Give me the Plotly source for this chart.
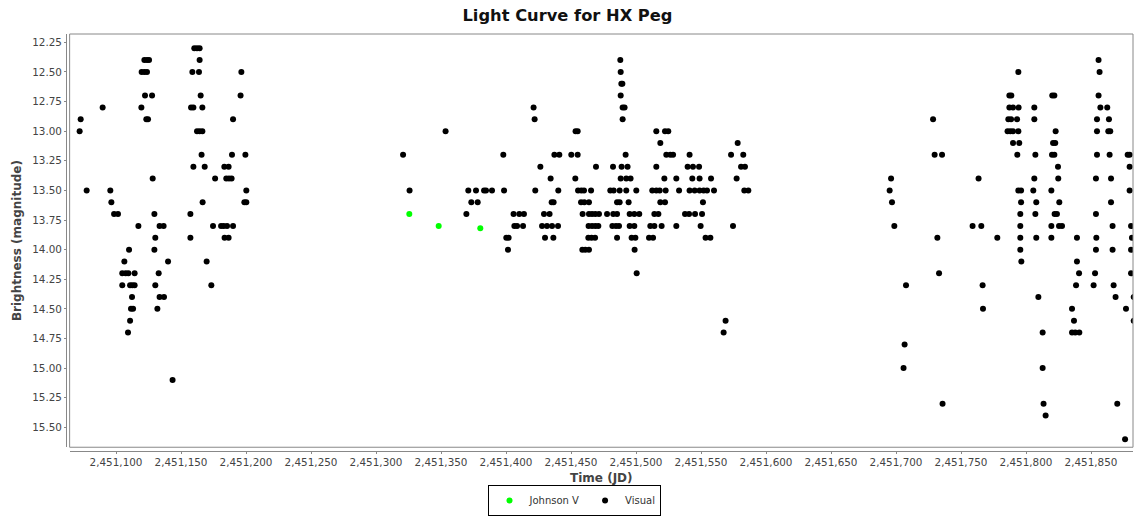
"""
HX Peg light curve (AAVSO style scatter, JFreeChart look)
"""

import plotly.graph_objects as go

# -------------------------------------------------------------
# DATA (Julian Date, magnitude)
# -------------------------------------------------------------
# Season 1 - visual estimates
s1_jd = [
    2451160.2, 2451162.3, 2451164.3,
    2451121.8, 2451123.8, 2451125.4, 2451164.3,
    2451119.7, 2451121.8, 2451123.8, 2451158.7, 2451163.8, 2451196.4,
    2451122.3, 2451127.7, 2451165.1, 2451195.8,
    2451089.7, 2451119.5, 2451157.7, 2451159.5, 2451166.4,
    2451072.8, 2451123.3, 2451124.6, 2451190.0,
    2451072.0, 2451162.3, 2451164.3, 2451166.4,
    2451165.8, 2451189.2, 2451199.5,
    2451159.5, 2451168.2, 2451183.3, 2451186.6,
    2451128.2, 2451176.2, 2451184.8, 2451186.9, 2451188.9,
    2451077.4, 2451095.6, 2451200.2,
    2451096.4, 2451166.6, 2451198.7, 2451200.2,
    2451098.5, 2451101.5, 2451129.5, 2451157.2,
    2451117.2, 2451133.5, 2451136.6, 2451174.6, 2451180.8, 2451182.8, 2451185.4, 2451190.0,
    2451130.2, 2451157.2, 2451183.5, 2451186.6,
    2451110.0, 2451129.5,
    2451106.4, 2451140.0, 2451169.7,
    2451104.8, 2451107.4, 2451109.5, 2451114.3, 2451132.8,
    2451104.8, 2451110.8, 2451112.5, 2451114.3, 2451130.2, 2451173.3,
    2451112.3, 2451133.5, 2451136.9,
    2451111.5, 2451113.1, 2451131.8,
    2451110.8,
    2451109.2,
    2451143.5,
]
s1_mag = [
    12.3, 12.3, 12.3,
    12.4, 12.4, 12.4, 12.4,
    12.5, 12.5, 12.5, 12.5, 12.5, 12.5,
    12.7, 12.7, 12.7, 12.7,
    12.8, 12.8, 12.8, 12.8, 12.8,
    12.9, 12.9, 12.9, 12.9,
    13.0, 13.0, 13.0, 13.0,
    13.2, 13.2, 13.2,
    13.3, 13.3, 13.3, 13.3,
    13.4, 13.4, 13.4, 13.4, 13.4,
    13.5, 13.5, 13.5,
    13.6, 13.6, 13.6, 13.6,
    13.7, 13.7, 13.7, 13.7,
    13.8, 13.8, 13.8, 13.8, 13.8, 13.8, 13.8, 13.8,
    13.9, 13.9, 13.9, 13.9,
    14.0, 14.0,
    14.1, 14.1, 14.1,
    14.2, 14.2, 14.2, 14.2, 14.2,
    14.3, 14.3, 14.3, 14.3, 14.3, 14.3,
    14.4, 14.4, 14.4,
    14.5, 14.5, 14.5,
    14.6,
    14.7,
    15.1,
]

# Season 2 - visual estimates
s2_jd = [
    2451487.9,
    2451488.2,
    2451488.7, 2451489.5,
    2451488.2,
    2451421.2, 2451489.7, 2451491.2,
    2451422.0, 2451489.7,
    2451353.5, 2451453.5, 2451455.1, 2451515.6, 2451522.3, 2451524.8,
    2451518.7, 2451578.2,
    2451320.8, 2451397.9, 2451437.2, 2451441.0, 2451450.2, 2451455.1, 2451492.0,
    2451523.3, 2451526.4, 2451528.5, 2451541.2, 2451573.1, 2451582.5,
    2451426.4, 2451469.2, 2451482.3, 2451488.9, 2451493.5, 2451515.6, 2451539.7,
    2451543.8, 2451548.5, 2451580.8, 2451583.8,
    2451434.3, 2451453.3, 2451488.2, 2451492.5, 2451495.8, 2451521.8, 2451531.0,
    2451543.3, 2451548.9, 2451557.7, 2451577.4,
    2451325.8, 2451371.0, 2451376.9, 2451383.1, 2451384.6, 2451389.2, 2451398.5,
    2451422.5, 2451440.2, 2451455.4, 2451457.9, 2451460.0, 2451465.4, 2451480.2,
    2451482.8, 2451487.4, 2451492.5, 2451500.2, 2451512.5, 2451515.6, 2451518.2,
    2451522.8, 2451533.1, 2451541.2, 2451545.1, 2451548.9, 2451552.0, 2451554.6,
    2451560.0, 2451583.3, 2451586.4,
    2451373.3, 2451378.2, 2451435.1, 2451436.6, 2451457.7, 2451460.2, 2451463.8,
    2451485.4, 2451487.4, 2451494.3, 2451518.7, 2451522.3, 2451551.5,
    2451369.5, 2451405.8, 2451410.2, 2451413.8, 2451429.2, 2451433.5, 2451458.9,
    2451463.8, 2451466.2, 2451468.7, 2451471.5, 2451477.7, 2451482.5, 2451485.4,
    2451495.1, 2451498.7, 2451502.5, 2451514.1, 2451517.2, 2451537.7, 2451540.8,
    2451545.4, 2451550.8,
    2451406.4, 2451408.5, 2451413.1, 2451427.7, 2451431.5, 2451435.4, 2451440.0,
    2451463.5, 2451466.2, 2451468.7, 2451471.0, 2451481.8, 2451484.6, 2451486.9,
    2451495.1, 2451498.7, 2451511.0, 2451514.1, 2451519.7, 2451531.0, 2451549.7,
    2451574.6,
    2451400.2, 2451402.0, 2451430.0, 2451436.4, 2451463.3, 2451465.8, 2451468.5,
    2451485.4, 2451496.6, 2451499.5, 2451510.0, 2451513.1, 2451553.5, 2451557.2,
    2451401.5, 2451458.7, 2451461.0, 2451463.8, 2451498.9,
    2451500.5,
    2451568.9,
    2451567.4,
]
s2_mag = [
    12.4,
    12.5,
    12.6, 12.6,
    12.7,
    12.8, 12.8, 12.8,
    12.9, 12.9,
    13.0, 13.0, 13.0, 13.0, 13.0, 13.0,
    13.1, 13.1,
    13.2, 13.2, 13.2, 13.2, 13.2, 13.2, 13.2,
    13.2, 13.2, 13.2, 13.2, 13.2, 13.2,
    13.3, 13.3, 13.3, 13.3, 13.3, 13.3, 13.3,
    13.3, 13.3, 13.3, 13.3,
    13.4, 13.4, 13.4, 13.4, 13.4, 13.4, 13.4,
    13.4, 13.4, 13.4, 13.4,
    13.5, 13.5, 13.5, 13.5, 13.5, 13.5, 13.5,
    13.5, 13.5, 13.5, 13.5, 13.5, 13.5, 13.5,
    13.5, 13.5, 13.5, 13.5, 13.5, 13.5, 13.5,
    13.5, 13.5, 13.5, 13.5, 13.5, 13.5, 13.5,
    13.5, 13.5, 13.5,
    13.6, 13.6, 13.6, 13.6, 13.6, 13.6, 13.6,
    13.6, 13.6, 13.6, 13.6, 13.6, 13.6,
    13.7, 13.7, 13.7, 13.7, 13.7, 13.7, 13.7,
    13.7, 13.7, 13.7, 13.7, 13.7, 13.7, 13.7,
    13.7, 13.7, 13.7, 13.7, 13.7, 13.7, 13.7,
    13.7, 13.7,
    13.8, 13.8, 13.8, 13.8, 13.8, 13.8, 13.8,
    13.8, 13.8, 13.8, 13.8, 13.8, 13.8, 13.8,
    13.8, 13.8, 13.8, 13.8, 13.8, 13.8, 13.8,
    13.8,
    13.9, 13.9, 13.9, 13.9, 13.9, 13.9, 13.9,
    13.9, 13.9, 13.9, 13.9, 13.9, 13.9, 13.9,
    14.0, 14.0, 14.0, 14.0, 14.0,
    14.2,
    14.6,
    14.7,
]

# Season 3 - visual estimates
s3_jd = [
    2451855.8,
    2451794.1, 2451856.6,
    2451787.2, 2451788.7, 2451820.2, 2451821.8, 2451855.8,
    2451787.2, 2451790.0, 2451794.3, 2451806.4, 2451857.2, 2451862.5,
    2451728.5, 2451786.4, 2451788.5, 2451793.1, 2451806.4, 2451854.6, 2451863.8,
    2451785.8, 2451787.9, 2451790.0, 2451794.1, 2451822.8, 2451854.6, 2451863.3, 2451864.8,
    2451790.0, 2451794.8, 2451820.8, 2451822.5,
    2451729.7, 2451735.4, 2451793.3, 2451807.2, 2451820.0, 2451821.8, 2451854.6,
    2451864.3, 2451878.2, 2451879.7,
    2451824.6, 2451879.7,
    2451696.2, 2451763.5, 2451806.4, 2451824.8, 2451853.8, 2451865.4,
    2451695.1, 2451794.1, 2451796.2, 2451805.6, 2451819.5, 2451879.7,
    2451696.9, 2451796.2, 2451807.9, 2451825.6, 2451865.4,
    2451795.6, 2451807.2, 2451822.0, 2451823.8, 2451853.8,
    2451698.7, 2451758.9, 2451765.6, 2451795.6, 2451819.5, 2451825.4, 2451827.7,
    2451866.6, 2451880.8,
    2451731.8, 2451777.9, 2451795.6, 2451807.9, 2451819.5, 2451839.2, 2451854.1,
    2451881.5,
    2451795.6, 2451853.8, 2451866.6, 2451880.8,
    2451796.4, 2451839.2,
    2451733.1, 2451840.8, 2451853.1, 2451880.8,
    2451707.7, 2451766.6, 2451838.5, 2451852.0, 2451867.4,
    2451809.5, 2451868.9, 2451882.8,
    2451766.9, 2451835.4, 2451876.9,
    2451836.9, 2451882.8,
    2451812.8, 2451835.4, 2451837.9, 2451841.0,
    2451706.6,
    2451705.8, 2451812.8,
    2451735.8, 2451813.5, 2451870.2,
    2451815.1,
    2451876.2,
]
s3_mag = [
    12.4,
    12.5, 12.5,
    12.7, 12.7, 12.7, 12.7, 12.7,
    12.8, 12.8, 12.8, 12.8, 12.8, 12.8,
    12.9, 12.9, 12.9, 12.9, 12.9, 12.9, 12.9,
    13.0, 13.0, 13.0, 13.0, 13.0, 13.0, 13.0, 13.0,
    13.1, 13.1, 13.1, 13.1,
    13.2, 13.2, 13.2, 13.2, 13.2, 13.2, 13.2,
    13.2, 13.2, 13.2,
    13.3, 13.3,
    13.4, 13.4, 13.4, 13.4, 13.4, 13.4,
    13.5, 13.5, 13.5, 13.5, 13.5, 13.5,
    13.6, 13.6, 13.6, 13.6, 13.6,
    13.7, 13.7, 13.7, 13.7, 13.7,
    13.8, 13.8, 13.8, 13.8, 13.8, 13.8, 13.8,
    13.8, 13.8,
    13.9, 13.9, 13.9, 13.9, 13.9, 13.9, 13.9,
    13.9,
    14.0, 14.0, 14.0, 14.0,
    14.1, 14.1,
    14.2, 14.2, 14.2, 14.2,
    14.3, 14.3, 14.3, 14.3, 14.3,
    14.4, 14.4, 14.4,
    14.5, 14.5, 14.5,
    14.6, 14.6,
    14.7, 14.7, 14.7, 14.7,
    14.8,
    15.0, 15.0,
    15.3, 15.3, 15.3,
    15.4,
    15.6,
]

# Johnson V observations
jv_jd = [2451325.6, 2451348.2, 2451380.2]
jv_mag = [13.7, 13.8, 13.82]

# Axis ticks
x_ticks = [2451100, 2451150, 2451200, 2451250, 2451300, 2451350, 2451400, 2451450,
           2451500, 2451550, 2451600, 2451650, 2451700, 2451750, 2451800, 2451850]
y_ticks = [12.25, 12.50, 12.75, 13.00, 13.25, 13.50, 13.75, 14.00,
           14.25, 14.50, 14.75, 15.00, 15.25, 15.50]

visual_jd = s1_jd + s2_jd + s3_jd
visual_mag = s1_mag + s2_mag + s3_mag

# -------------------------------------------------------------
# FIGURE
# -------------------------------------------------------------
axis_gray = '#888888'
tick_font = dict(family='DejaVu Sans', size=10.4, color='#444444')
label_font = dict(family='DejaVu Sans', size=12, color='#444444')

fig = go.Figure()

fig.add_trace(go.Scatter(
    x=visual_jd, y=visual_mag,
    mode='markers',
    marker=dict(color='black', size=6),
    name='Visual',
    legendrank=2,
))

fig.add_trace(go.Scatter(
    x=jv_jd, y=jv_mag,
    mode='markers',
    marker=dict(color='#00FF00', size=6),
    name='Johnson V',
    legendrank=1,
))

# plot outline (axes are offset from it, JFreeChart style)
fig.add_shape(type='rect', xref='paper', yref='paper',
              x0=0.0034, x1=1, y0=0.009, y1=1,
              line=dict(color=axis_gray, width=1), layer='above')

fig.update_layout(
    width=1135,
    height=518,
    paper_bgcolor='white',
    plot_bgcolor='white',
    margin=dict(l=66, r=2, t=34, b=67),
    title=dict(text='<b>Light Curve for HX Peg</b>',
               x=0.5, xref='container', xanchor='center',
               y=1 - 15 / 518, yref='container', yanchor='middle',
               font=dict(family='DejaVu Sans', size=16.3, color='#111111')),
    showlegend=True,
    legend=dict(orientation='h',
                x=0.5066, xref='container', xanchor='center',
                y=1 - 516 / 518, yref='container', yanchor='bottom',
                bordercolor='black', borderwidth=1,
                itemwidth=30, tracegroupgap=0,
                font=dict(family='DejaVu Sans', size=10, color='#333333')),
    xaxis=dict(
        domain=[0.0034, 1],
        anchor='free', position=0,
        range=[2451064.3, 2451882.3],
        automargin=False,
        showgrid=False, zeroline=False,
        showline=True, linecolor=axis_gray, linewidth=1,
        ticks='outside', ticklen=2, tickcolor=axis_gray,
        tickvals=x_ticks, tickformat=',d',
        tickfont=tick_font,
        title=dict(text='<b>Time (JD)</b>', font=label_font, standoff=6),
    ),
    yaxis=dict(
        domain=[0.009, 1],
        anchor='free', position=0,
        range=[15.668, 12.18],
        automargin=False,
        showgrid=False, zeroline=False,
        showline=True, linecolor=axis_gray, linewidth=1,
        ticks='outside', ticklen=2, tickcolor=axis_gray,
        tickvals=y_ticks, tickformat='.2f',
        tickfont=tick_font,
        title=dict(text='<b>Brightness (magnitude)</b>', font=label_font, standoff=6),
    ),
)

# the page body keeps its default 8px margin otherwise
fig.write_html("out.html", config={'displayModeBar': False},
               post_script="document.body.style.margin='0px';")
